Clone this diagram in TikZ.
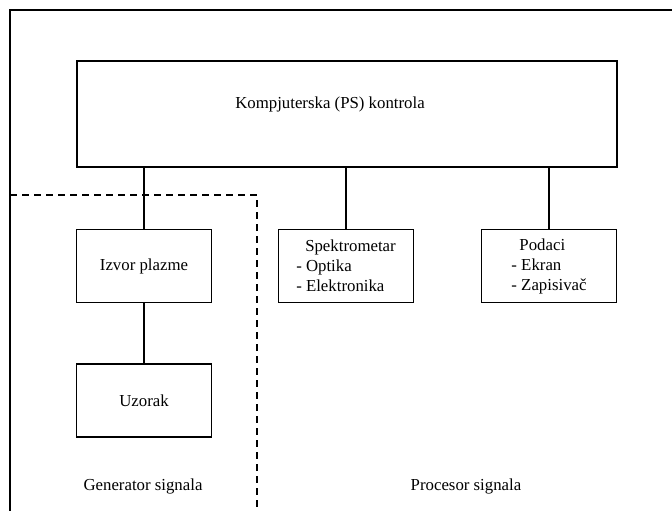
\documentclass[tikz,border=0pt]{standalone}
\usepackage{fontspec}
\setmainfont{Liberation Serif}
\usetikzlibrary{positioning}
\begin{document}
\begin{tikzpicture}[x=1pt, y=-1pt, node distance=203pt,
  font=\fontsize{16.8}{20}\selectfont,
  blok/.style={draw, rectangle, line width=1.6pt, minimum width=135pt, minimum height=73pt, align=left, inner sep=0pt},
  veza/.style={line width=1.8pt}]
\useasboundingbox (0,0) rectangle (672,511);
\clip (0,0) rectangle (672,511);
% okviri
\draw[veza] (10,530) -- (10,10) -- (690,10);
\draw[veza, dash pattern=on 7pt off 5pt] (10,195) -- (257,195) -- (257,530);
% blokovi
\node[draw, rectangle, line width=1.6pt, minimum width=540pt, minimum height=106pt] (ctrl) at (347,114) {\raisebox{6pt}[0pt][0pt]{Kompjuterska (PS) kontrola}\hspace*{34pt}};
\node[blok] (spek) at (346,266) {\hspace{9pt}Spektrometar\\- Optika\\- Elektronika};
\node[blok, right of=spek] (podaci) {\hspace{8pt}Podaci\\- Ekran\\- Zapisivač};
\node[blok, left of=spek, node distance=202pt] (izvor) {Izvor plazme};
\node[blok, below of=izvor, node distance=134.5pt] (uzorak) {Uzorak};
\node (gen) at (143,486) {Generator signala};
\node (proc) at (466,486) {Procesor signala};
% veze
\draw[veza] (ctrl.south -| izvor) -- (izvor);
\draw[veza] (ctrl.south -| spek) -- (spek);
\draw[veza] (ctrl.south -| podaci) -- (podaci);
\draw[veza] (izvor) -- (uzorak);
\end{tikzpicture}
\end{document}
